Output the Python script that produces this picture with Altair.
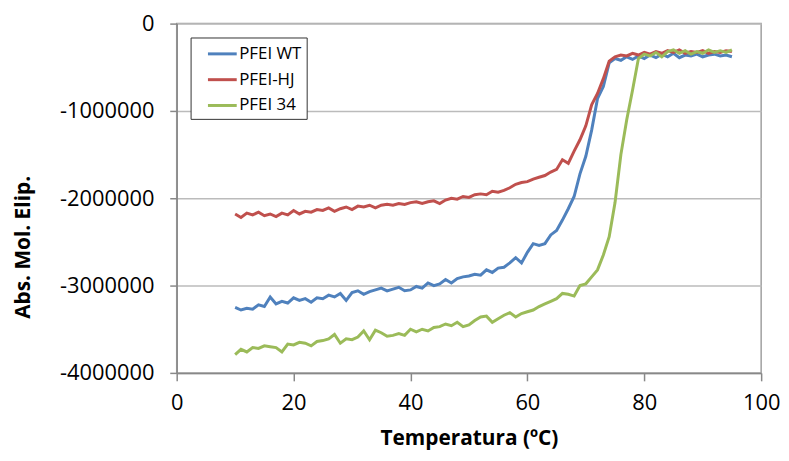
import altair as alt
import pandas as pd

temps = list(range(10, 96))

wt = [-3.25, -3.28, -3.26, -3.27, -3.22, -3.24, -3.13, -3.21, -3.18, -3.20,
      -3.14, -3.17, -3.15, -3.19, -3.14, -3.15, -3.11, -3.13, -3.09, -3.17,
      -3.08, -3.06, -3.10, -3.07, -3.05, -3.03, -3.06, -3.04, -3.02, -3.06,
      -3.05, -3.01, -3.03, -2.97, -3.00, -2.98, -2.93, -2.97, -2.92, -2.90,
      -2.89, -2.87, -2.88, -2.82, -2.85, -2.80, -2.79, -2.74, -2.68, -2.74,
      -2.62, -2.52, -2.54, -2.52, -2.42, -2.37, -2.25, -2.12, -1.98, -1.72,
      -1.52, -1.22, -0.86, -0.72, -0.45, -0.40, -0.42, -0.38, -0.41, -0.37,
      -0.40, -0.36, -0.39, -0.35, -0.38, -0.34, -0.39, -0.36, -0.37, -0.35,
      -0.38, -0.36, -0.35, -0.37, -0.36, -0.38]

hj = [-2.18, -2.22, -2.17, -2.19, -2.16, -2.20, -2.18, -2.21, -2.17, -2.19,
      -2.14, -2.18, -2.15, -2.16, -2.13, -2.14, -2.11, -2.15, -2.12, -2.10,
      -2.13, -2.09, -2.10, -2.08, -2.11, -2.08, -2.07, -2.08, -2.06, -2.07,
      -2.05, -2.04, -2.06, -2.04, -2.03, -2.06, -2.02, -2.00, -2.01, -1.98,
      -1.99, -1.96, -1.95, -1.96, -1.92, -1.93, -1.91, -1.88, -1.84, -1.82,
      -1.81, -1.78, -1.76, -1.74, -1.70, -1.67, -1.56, -1.60, -1.46, -1.33,
      -1.17, -0.93, -0.80, -0.63, -0.43, -0.38, -0.36, -0.37, -0.34, -0.36,
      -0.33, -0.35, -0.32, -0.34, -0.31, -0.33, -0.30, -0.34, -0.32, -0.33,
      -0.31, -0.34, -0.32, -0.33, -0.31, -0.32]

p34 = [-3.79, -3.73, -3.76, -3.71, -3.72, -3.69, -3.70, -3.71, -3.76, -3.67,
       -3.68, -3.65, -3.66, -3.69, -3.64, -3.63, -3.61, -3.56, -3.66, -3.61,
       -3.62, -3.59, -3.52, -3.62, -3.51, -3.54, -3.58, -3.57, -3.55, -3.57,
       -3.50, -3.53, -3.50, -3.52, -3.48, -3.47, -3.44, -3.46, -3.42, -3.47,
       -3.45, -3.40, -3.36, -3.35, -3.42, -3.38, -3.34, -3.31, -3.36, -3.32,
       -3.30, -3.28, -3.24, -3.21, -3.18, -3.15, -3.09, -3.10, -3.12, -3.00,
       -2.98, -2.90, -2.82, -2.65, -2.44, -2.05, -1.50, -1.10, -0.76, -0.40,
       -0.35, -0.37, -0.33, -0.38, -0.32, -0.30, -0.34, -0.31, -0.35, -0.32,
       -0.34, -0.30, -0.33, -0.31, -0.33, -0.30]

series_names = ["PFEI WT", "PFEI-HJ", "PFEI 34"]
series_colors = ["#4F81BD", "#C0504D", "#9BBB59"]

rows = []
for name, vals in zip(series_names, [wt, hj, p34]):
    for t, v in zip(temps, vals):
        rows.append({"T": t, "v": v * 1e6, "s": name})
df = pd.DataFrame(rows)

FONT = "Open Sans"

chart = alt.Chart(df).mark_line(strokeWidth=3).encode(
    x=alt.X("T:Q", scale=alt.Scale(domain=[0, 100], nice=False),
            axis=alt.Axis(values=[0, 20, 40, 60, 80, 100], grid=False, labelFlush=False,
                          title="Temperatura (ºC)", tickSize=8, labelPadding=12,
                          titleY=66, titleBaseline="middle")),
    y=alt.Y("v:Q", scale=alt.Scale(domain=[-4000000, 0], nice=False),
            axis=alt.Axis(values=[-4000000, -3000000, -2000000, -1000000, 0],
                          labelExpr="'' + datum.value", tickSize=7, labelPadding=16,
                          labelFlush=False,
                          title="Abs. Mol. Elip.", titleX=-154, titleY=225,
                          titleAngle=-90, titleAlign="center", titleBaseline="middle")),
    color=alt.Color("s:N", scale=alt.Scale(domain=series_names, range=series_colors),
                    legend=alt.Legend(title=None, orient="none", legendX=14, legendY=14,
                                      symbolType="M0.1,0H3.0", symbolSize=400,
                                      symbolStrokeWidth=3, labelFontSize=17,
                                      labelFont=FONT, labelColor="#000000",
                                      labelExpr="datum.label + '\u00a0\u00a0\u00a0\u00a0'",
                                      rowPadding=6, padding=5, labelOffset=21,
                                      strokeColor="#333333", fillColor="white")),
    order=alt.Order("T:Q"),
).properties(
    width=589, height=352,
    autosize=alt.AutoSizeParams(type="none"),
    padding={"left": 170, "top": 14, "right": 20, "bottom": 80},
).configure_view(
    stroke="#A0A0A0", strokeWidth=1.5
).configure_axis(
    labelFont=FONT, labelFontSize=22, labelColor="#000000",
    titleFont=FONT, titleFontSize=21, titleFontWeight="bold", titleColor="#000000",
    domainColor="#888888", domainWidth=1.5, tickColor="#888888", tickWidth=1.5,
    gridColor="#BBBBBB", gridWidth=1.5
)

chart.save("out.html", embed_options={"renderer": "svg", "actions": False})
